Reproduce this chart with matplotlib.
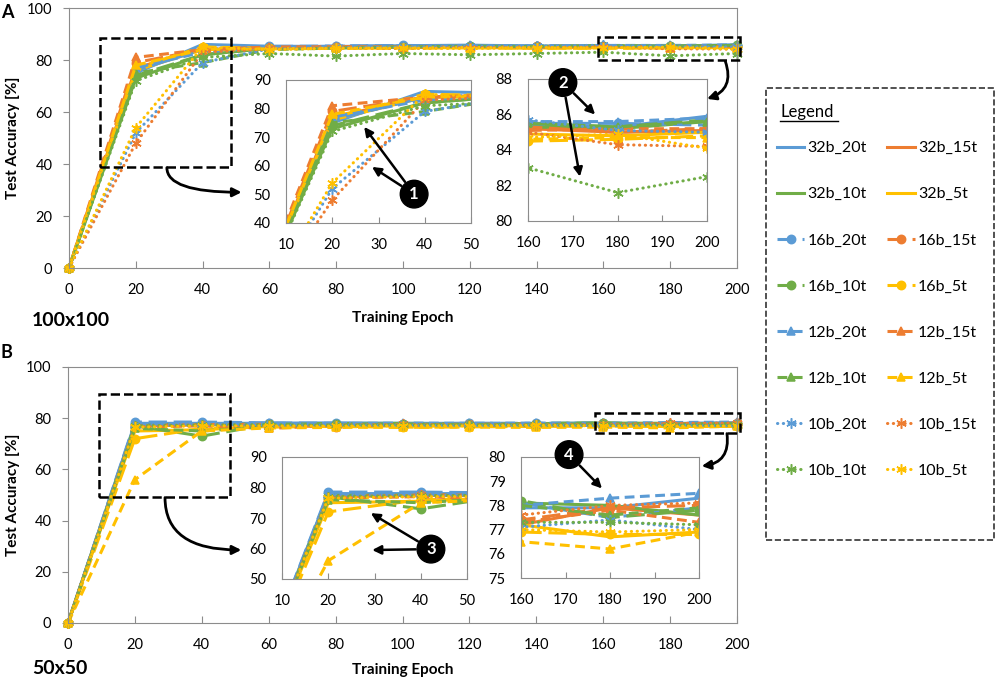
import matplotlib
matplotlib.use("Agg")
import matplotlib.pyplot as plt
from matplotlib.patches import Rectangle
from matplotlib.lines import Line2D

plt.rcParams['font.family'] = ['Lato', 'DejaVu Sans']

# ---- data ----
epochs = [0, 20, 40, 60, 80, 100, 120, 140, 160, 180, 200]
labels = ['32b_20t', '32b_15t', '32b_10t', '32b_5t',
          '16b_20t', '16b_15t', '16b_10t', '16b_5t',
          '12b_20t', '12b_15t', '12b_10t', '12b_5t',
          '10b_20t', '10b_15t', '10b_10t', '10b_5t']

# test accuracy, 100x100 input (rows in the order of labels)
acc_100 = [
    [0, 75, 86, 85.3, 85.2, 85.5, 85.7, 85.4, 85.4, 85.3, 85.9],
    [0, 77, 84, 84.8, 85.0, 85.2, 85.1, 85.0, 85.2, 85.0, 85.1],
    [0, 73, 82, 84.5, 84.8, 85.2, 85.0, 85.1, 85.3, 85.2, 85.6],
    [0, 76, 84, 84.4, 84.7, 84.9, 84.8, 84.6, 84.9, 84.8, 85.0],
    [0, 76, 84, 85.2, 85.4, 85.6, 85.4, 85.5, 85.5, 85.5, 85.4],
    [0, 79, 84, 84.8, 84.9, 85.0, 85.0, 85.2, 85.3, 85.0, 85.2],
    [0, 74, 82, 84.6, 84.8, 85.1, 85.3, 85.0, 85.5, 85.3, 85.7],
    [0, 77, 85, 84.5, 84.6, 84.5, 84.7, 84.5, 84.5, 84.6, 84.8],
    [0, 77, 83, 85.0, 85.3, 85.5, 85.6, 85.4, 85.6, 85.6, 85.8],
    [0, 81, 84, 85.0, 85.1, 85.0, 85.2, 85.0, 85.1, 85.2, 85.2],
    [0, 75, 79, 84.0, 84.6, 85.0, 85.3, 85.2, 85.5, 85.3, 85.6],
    [0, 78, 84, 84.3, 84.5, 84.6, 84.8, 84.6, 84.6, 84.7, 84.7],
    [0, 52, 79, 84.3, 84.8, 85.0, 85.2, 85.3, 85.7, 85.1, 85.0],
    [0, 48, 83, 84.2, 84.6, 84.4, 84.8, 84.7, 85.0, 84.3, 84.2],
    [0, 72, 81, 82.5, 81.5, 82.5, 82.0, 82.5, 83.0, 81.6, 82.5],
    [0, 54, 85, 84.0, 84.5, 84.6, 84.4, 84.8, 84.7, 84.9, 84.1],
]

# test accuracy, 50x50 input
acc_50 = [
    [0, 78.0, 78.0, 78.0, 78.2, 78.0, 78.0, 77.9, 77.9, 77.9, 78.3],
    [0, 77.0, 77.5, 77.2, 77.0, 77.3, 77.5, 77.4, 77.2, 77.9, 77.6],
    [0, 77.5, 77.5, 77.8, 77.9, 78.0, 77.8, 77.9, 78.1, 78.0, 77.6],
    [0, 75.0, 75.5, 76.8, 77.0, 76.9, 77.0, 77.1, 77.2, 76.7, 76.9],
    [0, 78.5, 78.5, 78.2, 78.0, 77.8, 78.0, 78.0, 78.1, 77.5, 77.9],
    [0, 77.0, 77.5, 77.6, 76.5, 77.5, 77.6, 77.8, 77.4, 77.9, 78.0],
    [0, 77.0, 73.0, 77.6, 77.8, 77.7, 77.5, 77.9, 78.2, 77.5, 77.8],
    [0, 72.0, 76.0, 76.5, 76.8, 76.4, 76.6, 76.8, 76.9, 76.8, 76.8],
    [0, 77.8, 77.8, 78.0, 77.9, 78.1, 78.0, 78.1, 78.0, 78.3, 78.5],
    [0, 76.5, 77.0, 76.0, 77.2, 77.2, 77.3, 77.0, 77.3, 77.8, 77.3],
    [0, 76.0, 75.0, 76.8, 77.4, 77.5, 77.6, 77.4, 78.0, 77.6, 77.9],
    [0, 56.0, 75.0, 76.2, 76.4, 76.5, 76.5, 76.4, 76.5, 76.2, 76.9],
    [0, 77.5, 77.6, 77.3, 77.4, 77.3, 77.2, 77.3, 77.1, 77.4, 77.0],
    [0, 77.0, 77.4, 77.2, 77.3, 77.6, 77.5, 77.4, 77.6, 78.0, 78.1],
    [0, 77.0, 77.3, 77.5, 77.2, 77.3, 77.4, 77.2, 77.3, 77.3, 77.2],
    [0, 76.5, 77.0, 77.0, 76.9, 77.1, 77.0, 77.2, 77.0, 76.9, 77.0],
]

colors = {'20t': '#5B9BD5', '15t': '#ED7D31', '10t': '#70AD47', '5t': '#FFC000'}
styles = {'32b': ('-', None), '16b': ((0, (6, 2.2)), 'o'),
          '12b': ((0, (3.2, 1.8)), '^'), '10b': ((0, (0.1, 1.8)), (6, 2, 0))}

W, H = 996, 682
fig = plt.figure(figsize=(W / 100, H / 100), dpi=100)


def add_ax(l, t, r, b):
    return fig.add_axes([l / W, 1 - b / H, (r - l) / W, (b - t) / H])


def draw(ax, data, clip):
    lines = []
    for lab, vals in zip(labels, data):
        b, t = lab.split('_')
        ls, mk = styles[b]
        ln, = ax.plot(epochs, vals, color=colors[t], ls=ls, marker=mk, lw=2.2,
                      ms=7.5 if b == '10b' else 6, mew=1.1, clip_on=clip, label=lab,
                      dash_capstyle='round' if b == '10b' else 'butt')
        lines.append(ln)
    return lines


def style_main(ax):
    ax.set_xlim(0, 200)
    ax.set_ylim(0, 100)
    ax.set_xticks(range(0, 201, 20))
    ax.set_yticks(range(0, 101, 20))
    for s in ax.spines.values():
        s.set_color('#8c8c8c')
    ax.tick_params(axis='x', direction='in', length=5, pad=11, labelsize=10.5, color='#8c8c8c')
    ax.tick_params(axis='y', direction='out', length=4, pad=8, labelsize=10.5, color='#8c8c8c')


def style_inset(ax, xlim, ylim, ystep):
    ax.set_xlim(*xlim)
    ax.set_ylim(*ylim)
    ax.set_xticks(range(xlim[0], xlim[1] + 1, 10))
    ax.set_yticks(range(ylim[0], ylim[1] + 1, ystep))
    for s in ax.spines.values():
        s.set_color('#8c8c8c')
    ax.tick_params(axis='x', direction='in', length=4, pad=11, labelsize=10.5, color='#8c8c8c')
    ax.tick_params(axis='y', length=0, pad=11, labelsize=10.5)


def dashed_box(ax, x0, x1, y0, y1):
    ax.add_patch(Rectangle((x0, y0), x1 - x0, y1 - y0, fill=False, ls='--',
                           lw=1.8, ec='black', clip_on=False, zorder=5))


def badge(ax, x, y, num, targets):
    for tx, ty in targets:
        ax.annotate('', xy=(tx, ty), xytext=(x, y), annotation_clip=False,
                    arrowprops=dict(arrowstyle='-|>', color='black', lw=1.8,
                                    shrinkA=11, shrinkB=0, mutation_scale=13))
    ax.text(x, y, num, ha='center', va='center', color='white', fontsize=12,
            fontweight='bold', zorder=10, clip_on=False,
            bbox=dict(boxstyle='circle,pad=0.35', fc='black', ec='black'))


def curved(ax, tail, head_ax, head, conn):
    ax.annotate('', xy=head, xycoords=head_ax.transAxes, xytext=tail,
                textcoords='data', annotation_clip=False,
                arrowprops=dict(arrowstyle='-|>', color='black', lw=2,
                                connectionstyle=conn, mutation_scale=13,
                                shrinkA=0, shrinkB=0))


# ---- panel A: 100x100 ----
axA = add_ax(69, 8, 737, 268)
handles = draw(axA, acc_100, False)
style_main(axA)
dashed_box(axA, 9.2, 48.5, 39, 88.4)
dashed_box(axA, 158.5, 201, 79.9, 88.8)

insA1 = add_ax(286, 80, 471, 223)
draw(insA1, acc_100, True)
style_inset(insA1, (10, 50), (40, 90), 10)
insA2 = add_ax(528, 79, 707, 221)
draw(insA2, acc_100, True)
style_inset(insA2, (160, 200), (80, 88), 2)

curved(axA, (29.3, 38.6), insA1, (-0.24, 0.215), 'angle3,angleA=90,angleB=0')
curved(axA, (196.5, 79.5), insA2, (1.0, 0.86), 'arc3,rad=-0.5')
badge(insA1, 37.7, 50.1, '1', [(26.9, 73.6), (28.6, 59.6)])
badge(insA2, 167.8, 87.8, '2', [(175, 86.0), (171.6, 82.5)])

# ---- panel B: 50x50 ----
axB = add_ax(68, 367, 737, 623)
draw(axB, acc_50, False)
style_main(axB)
dashed_box(axB, 9.2, 48.5, 49.2, 89.5)
dashed_box(axB, 157.5, 201, 74.2, 82.0)

insB1 = add_ax(282, 457, 467, 579)
draw(insB1, acc_50, True)
style_inset(insB1, (10, 50), (50, 90), 10)
insB2 = add_ax(521, 457, 699, 578)
draw(insB2, acc_50, True)
style_inset(insB2, (160, 200), (75, 80), 1)

curved(axB, (29, 49.0), insB1, (-0.22, 0.238), 'angle3,angleA=90,angleB=0')
curved(axB, (197, 74.0), insB2, (1.015, 0.925), 'arc3,rad=-0.5')
badge(insB1, 42.2, 59.8, '3', [(29.2, 71.6), (29.5, 59.5)])
badge(insB2, 170.8, 80.1, '4', [(178.2, 78.7)])

# ---- texts ----
for yc, lab_y, name, name_y, letter, letter_y in [
        (138, 318, '100x100', 321, 'A', 12), (495, 670, '50x50', 668, 'B', 352)]:
    fig.text(12.5 / W, 1 - yc / H, 'Test Accuracy [%]', rotation=90, ha='center',
             va='center', fontsize=11, fontweight='bold')
    fig.text(403 / W, 1 - lab_y / H, 'Training Epoch', ha='center', va='center',
             fontsize=11, fontweight='bold')
    fig.text(32 / W, 1 - name_y / H, name, ha='left', va='center', fontsize=14,
             fontweight='bold')
    fig.text(1 / W, 1 - letter_y / H, letter, ha='left', va='center', fontsize=13,
             fontweight='bold')

# ---- legend ----
order = list(range(0, 16, 2)) + list(range(1, 16, 2))
fig.legend([handles[i] for i in order], [labels[i] for i in order],
           loc='upper left', bbox_to_anchor=(777 / W, 1 - 141 / H), ncol=2,
           frameon=False, fontsize=11.5, handlelength=1.7, handletextpad=0.2,
           columnspacing=1.3, labelspacing=2.0, borderpad=0, borderaxespad=0)
fig.add_artist(Rectangle((766 / W, 1 - 540 / H), (994 - 766) / W, (540 - 88) / H,
                         transform=fig.transFigure, fill=False, ls='--', lw=1.2,
                         ec='#333333'))
fig.text(780 / W, 1 - 112 / H, 'Legend', ha='left', va='center', fontsize=12)
fig.add_artist(Line2D([780 / W, 838 / W], [1 - 121 / H, 1 - 121 / H],
                      transform=fig.transFigure, color='black', lw=1))

fig.savefig('out.png', dpi=100)
